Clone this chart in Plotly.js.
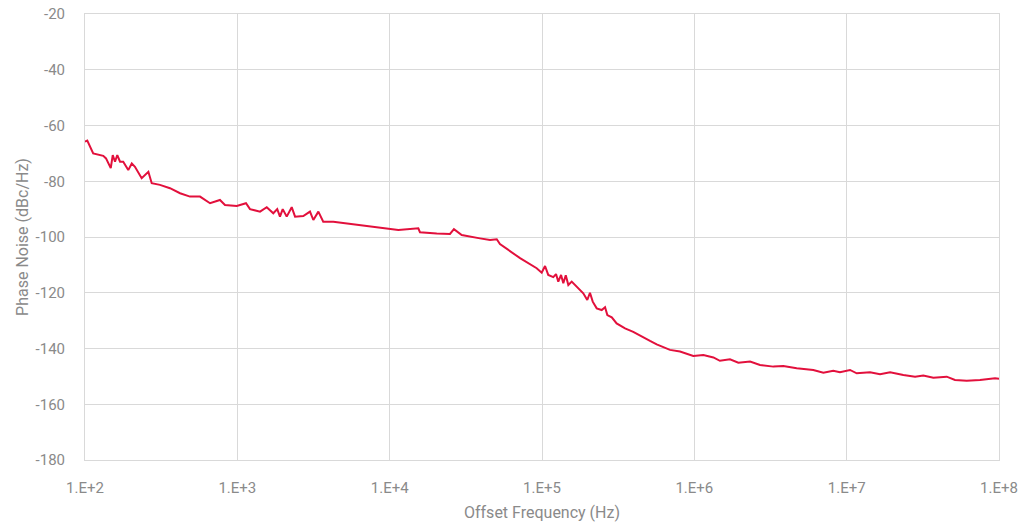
<!DOCTYPE html>
<html>
<head>
<meta charset="utf-8">
<script src="https://cdn.plot.ly/plotly-3.0.1.min.js"></script>
<style>html,body{margin:0;padding:0;background:#fff;}#chart{width:1019px;height:522px;}</style>
</head>
<body>
<div id="chart"></div>
<script>
// Offset frequency (Hz)
const freqHz = [
  1.000e2, 1.035e2, 1.132e2, 1.318e2, 1.374e2, 1.476e2, 1.521e2, 1.574e2, 1.629e2, 1.698e2,
  1.782e2, 1.923e2, 2.028e2, 2.128e2, 2.355e2, 2.606e2, 2.742e2,
  3.105e2, 3.614e2, 4.207e2, 4.887e2, 5.689e2, 6.622e2, 7.691e2, 8.299e2, 9.908e2, 1.140e3,
  1.211e3, 1.409e3, 1.560e3, 1.722e3, 1.828e3, 1.905e3, 1.986e3, 2.109e3, 2.275e3, 2.393e3,
  2.710e3, 2.999e3, 3.155e3, 3.404e3, 3.664e3, 4.266e3, 5.224e3, 6.383e3, 7.816e3, 9.572e3,
  1.140e4,
  1.542e4, 1.581e4, 2.037e4, 2.489e4, 2.642e4, 2.972e4, 3.917e4, 4.560e4, 5.047e4, 5.297e4,
  7.178e4, 9.226e4, 9.954e4, 1.047e5, 1.099e5, 1.186e5, 1.236e5, 1.279e5, 1.334e5, 1.380e5,
  1.432e5, 1.489e5, 1.567e5, 1.648e5, 1.866e5, 1.982e5, 2.065e5, 2.153e5, 2.286e5, 2.466e5,
  2.594e5, 2.685e5, 2.871e5, 3.090e5, 3.508e5, 3.972e5, 4.624e5, 5.117e5, 5.662e5, 6.918e5,
  8.054e5, 9.840e5, 1.146e6, 1.334e6, 1.472e6, 1.714e6, 1.945e6, 2.323e6, 2.698e6, 3.304e6,
  3.837e6, 4.699e6, 6.039e6, 7.031e6, 8.166e6,
  9.036e6, 1.052e7, 1.164e7, 1.423e7, 1.656e7, 1.928e7, 2.356e7, 2.812e7, 3.184e7, 3.707e7,
  4.539e7, 5.140e7, 6.138e7, 7.499e7, 9.419e7, 1.000e8
];
// Phase noise (dBc/Hz)
const phaseNoise = [
  -65.8, -65.4, -70.0, -70.9, -71.8, -75.3, -70.6, -73.0, -70.6, -73.0,
  -73.0, -76.0, -73.6, -74.8, -78.9, -76.6, -80.7,
  -81.3, -82.5, -84.3, -85.5, -85.5, -87.9, -86.7, -88.5, -88.9, -87.9,
  -90.0, -90.9, -89.3, -91.5, -90.0, -92.7, -90.0, -92.7, -89.3, -92.7,
  -92.5, -90.9, -93.9, -90.9, -94.5, -94.5, -95.1, -95.7, -96.5, -96.9,
  -97.5,
  -96.9, -98.3, -98.7, -98.9, -97.2, -99.3, -100.5, -101.1, -100.8, -102.5,
  -107.6, -111.2, -112.8, -110.4, -113.6, -114.4, -113.3, -116.0, -113.6, -116.6,
  -113.7, -117.2, -116.0, -117.2, -120.2, -122.6, -120.0, -123.2, -125.6, -126.2,
  -125.2, -128.0, -128.8, -131.0, -132.8, -134.0, -135.8, -137.3, -138.5, -140.5,
  -141.1, -142.7, -142.3, -143.2, -144.4, -143.9, -145.1, -144.7, -145.9, -146.5,
  -146.3, -147.1, -147.7, -148.7, -148.0,
  -148.5, -147.7, -148.9, -148.5, -149.2, -148.5, -149.5, -150.1, -149.7, -150.5,
  -150.1, -151.3, -151.6, -151.3, -150.7, -150.9
];
const xTickVals = [1e2, 1e3, 1e4, 1e5, 1e6, 1e7, 1e8];
const xTickText = ["1.E+2", "1.E+3", "1.E+4", "1.E+5", "1.E+6", "1.E+7", "1.E+8"];
const yTickVals = [-180, -160, -140, -120, -100, -80, -60, -40, -20];
const yTickText = ["-180", "-160", "-140", "-120", "-100", "-80", "-60", "-40", "-20"];

const fontFam = 'Roboto, "Open Sans", sans-serif';
const txtColor = '#8a8a8a';
const gridColor = '#d9d9d9';

Plotly.newPlot('chart', [{
  x: freqHz,
  y: phaseNoise,
  type: 'scatter',
  mode: 'lines',
  line: {color: '#e2103c', width: 2},
  hoverinfo: 'x+y'
}], {
  width: 1019,
  height: 522,
  margin: {l: 85, r: 20, t: 14, b: 62},
  paper_bgcolor: '#ffffff',
  plot_bgcolor: '#ffffff',
  showlegend: false,
  font: {family: fontFam, color: txtColor, size: 14},
  xaxis: {
    type: 'log',
    range: [2, 8],
    tickvals: xTickVals,
    ticktext: xTickText,
    showgrid: true,
    gridcolor: gridColor,
    gridwidth: 1,
    showline: true,
    linecolor: gridColor,
    linewidth: 1,
    mirror: true,
    zeroline: false,
    ticks: '',
    ticklabelstandoff: 14,
    tickfont: {family: fontFam, color: txtColor, size: 15},
    title: {text: 'Offset Frequency (Hz)', font: {family: fontFam, color: txtColor, size: 16}, standoff: 10}
  },
  yaxis: {
    range: [-180, -20],
    tickvals: yTickVals,
    ticktext: yTickText,
    showgrid: true,
    gridcolor: gridColor,
    gridwidth: 1,
    showline: true,
    linecolor: gridColor,
    linewidth: 1,
    mirror: true,
    zeroline: false,
    ticks: '',
    ticklabelstandoff: 16,
    tickfont: {family: fontFam, color: txtColor, size: 15},
    title: {text: 'Phase Noise (dBc/Hz)', font: {family: fontFam, color: txtColor, size: 16}, standoff: 2}
  }
}, {displayModeBar: false, staticPlot: true});
</script>
</body>
</html>
